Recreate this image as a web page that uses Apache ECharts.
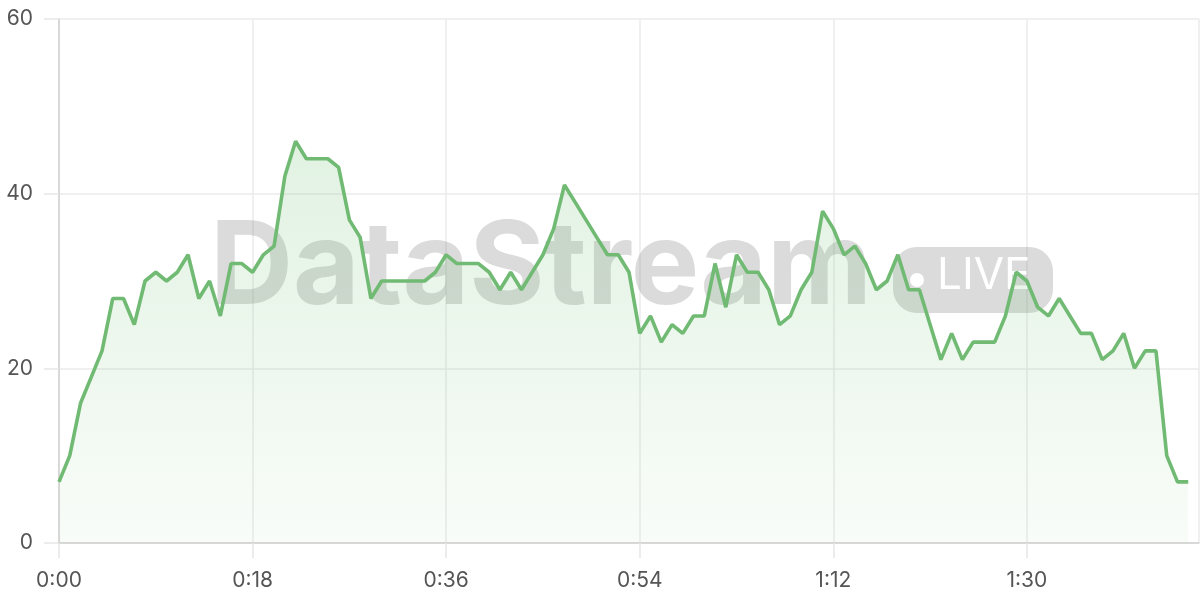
<!DOCTYPE html>
<html>
<head>
<meta charset="utf-8">
<script src="https://cdn.jsdelivr.net/npm/echarts@6/dist/echarts.min.js"></script>
<style>
  html, body { margin: 0; padding: 0; background: #ffffff; }
  #chart { width: 1200px; height: 600px; }
</style>
</head>
<body>
<div id="chart"></div>
<script>
// elapsed time in seconds
const seconds = [
  0, 1, 2, 3, 4, 5, 6, 7, 8, 9,
  10, 11, 12, 13, 14, 15, 16, 17, 18, 19,
  20, 21, 22, 23, 24, 25, 26, 27, 28, 29,
  30, 31, 32, 33, 34, 35, 36, 37, 38, 39,
  40, 41, 42, 43, 44, 45, 46, 47, 48, 49,
  50, 51, 52, 53, 54, 55, 56, 57, 58, 59,
  60, 61, 62, 63, 64, 65, 66, 67, 68, 69,
  70, 71, 72, 73, 74, 75, 76, 77, 78, 79,
  80, 81, 82, 83, 84, 85, 86, 87, 88, 89,
  90, 91, 92, 93, 94, 95, 96, 97, 98, 99,
  100, 101, 102, 103, 104, 105
];
const values = [
  7, 10, 16, 19, 22, 28, 28, 25, 30, 31,
  30, 31, 33, 28, 30, 26, 32, 32, 31, 33,
  34, 42, 46, 44, 44, 44, 43, 37, 35, 28,
  30, 30, 30, 30, 30, 31, 33, 32, 32, 32,
  31, 29, 31, 29, 31, 33, 36, 41, 39, 37,
  35, 33, 33, 31, 24, 26, 23, 25, 24, 26,
  26, 32, 27, 33, 31, 31, 29, 25, 26, 29,
  31, 38, 36, 33, 34, 32, 29, 30, 33, 29,
  29, 25, 21, 24, 21, 23, 23, 23, 26, 31,
  30, 27, 26, 28, 26, 24, 24, 21, 22, 24,
  20, 22, 22, 10, 7, 7
];
const yTicks = [0, 20, 40, 60];
const xTicks = [0, 18, 36, 54, 72, 90];
const watermarkText = 'DataStream';
const badgeText = 'LIVE';

function fmtTime(v) {
  const m = Math.floor(v / 60);
  const s = Math.round(v % 60);
  return m + ':' + String(s).padStart(2, '0');
}

const chart = echarts.init(document.getElementById('chart'), null, { renderer: 'canvas' });
const FONT = 'Inter, "Noto Sans", sans-serif';

chart.setOption({
  animation: false,
  backgroundColor: '#ffffff',
  grid: { left: 59, right: 1, top: 19, bottom: 57, containLabel: false },
  xAxis: {
    type: 'value',
    min: xTicks[0],
    max: 106,
    interval: 18,
    axisLine: { show: true, lineStyle: { color: '#d0d0d0', width: 1.5 } },
    axisTick: { show: true, length: 15, lineStyle: { color: '#e6e6e6', width: 1.5 } },
    splitLine: { show: true, lineStyle: { color: '#ebebeb', width: 1.5 } },
    axisLabel: {
      color: '#555555', fontSize: 21, fontFamily: FONT, margin: 27,
      formatter: v => fmtTime(v),
      showMaxLabel: false
    }
  },
  yAxis: {
    type: 'value',
    min: yTicks[0],
    max: yTicks[yTicks.length - 1],
    interval: 20,
    axisLine: { show: true, lineStyle: { color: '#d0d0d0', width: 1.5 } },
    axisTick: { show: true, length: 15, lineStyle: { color: '#e6e6e6', width: 1.5 } },
    splitLine: { show: true, lineStyle: { color: '#ebebeb', width: 1.5 } },
    axisLabel: { color: '#555555', fontSize: 21, fontFamily: FONT, margin: 26 }
  },
  graphic: [
    {
      type: 'text', z: 1, silent: true,
      left: 210, top: 212,
      style: {
        text: watermarkText,
        font: 'bold 115px ' + FONT,
        fill: 'rgba(110,110,110,0.25)'
      }
    },
    {
      type: 'rect', z: 1, silent: true,
      shape: { x: 893, y: 247, width: 160, height: 66, r: 24 },
      style: { fill: 'rgba(110,110,110,0.25)' }
    },
    {
      type: 'circle', z: 1, silent: true,
      shape: { cx: 917, cy: 280, r: 7 },
      style: { fill: '#ffffff' }
    },
    {
      type: 'text', z: 1, silent: true,
      left: 937, top: 254,
      style: {
        text: badgeText,
        font: '400 44px ' + FONT,
        fill: '#ffffff'
      }
    }
  ],
  series: [{
    type: 'line',
    z: 5,
    data: seconds.map((s, i) => [s, values[i]]),
    showSymbol: false,
    symbol: 'none',
    lineStyle: { color: '#70ba73', width: 3.6 },
    areaStyle: {
      color: new echarts.graphic.LinearGradient(0, 0, 0, 1, [
        { offset: 0, color: 'rgba(102,187,106,0.28)' },
        { offset: 1, color: 'rgba(102,187,106,0.06)' }
      ])
    }
  }]
});
</script>
</body>
</html>
